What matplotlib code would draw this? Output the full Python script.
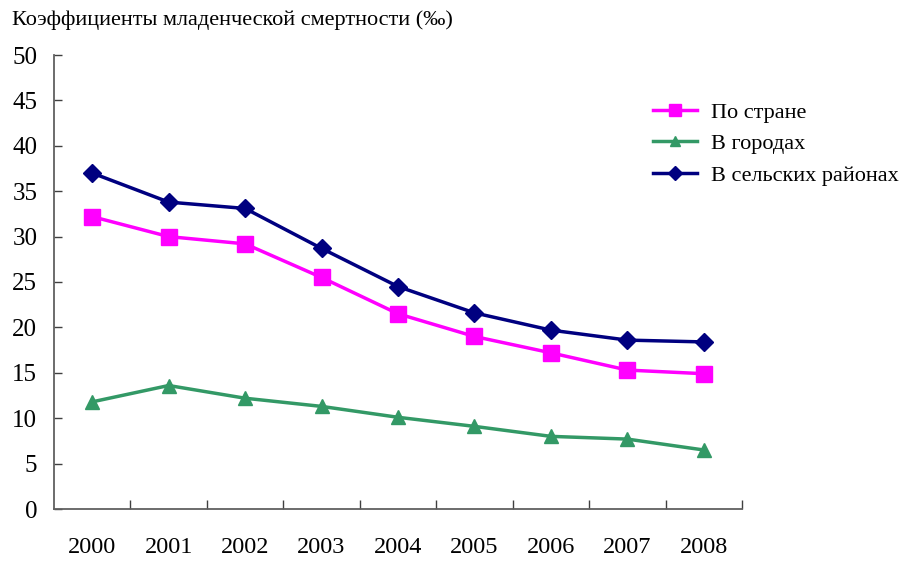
import numpy as np
import matplotlib
matplotlib.use("Agg")
import matplotlib.pyplot as plt

plt.rcParams['font.family'] = ['Liberation Serif', 'DejaVu Serif']

# данные: коэффициенты младенческой смертности (‰)
years = ["2000", "2001", "2002", "2003", "2004", "2005", "2006", "2007", "2008"]
country = [32.2, 30.0, 29.2, 25.5, 21.5, 19.0, 17.2, 15.3, 14.9]
cities = [11.8, 13.6, 12.2, 11.3, 10.1, 9.1, 8.0, 7.7, 6.5]
rural = [37.0, 33.8, 33.1, 28.7, 24.5, 21.6, 19.7, 18.6, 18.4]

fig = plt.figure(figsize=(9.08, 5.61), dpi=100)
ax = fig.add_axes([54/908, 1 - 509/561, (742 - 54)/908, (509 - 55)/561])

x = np.arange(len(years))
ax.plot(x, country, color="#FF00FF", lw=2.5, marker="s", ms=11, label="По стране")
ax.plot(x, cities, color="#339966", lw=2.5, marker="^", ms=9.5, label="В городах")
ax.plot(x, rural, color="#000080", lw=2.5, marker="D", ms=9, label="В сельских районах")

ax.set_xlim(-0.5, len(years) - 0.5)
ax.set_ylim(0, 50)
ax.set_yticks(np.arange(0, 51, 5))

# деления между категориями, подписи по центру
ax.set_xticks(np.arange(len(years)) + 0.5)
ax.set_xticklabels([])
ax.set_xticks(x, minor=True)
ax.set_xticklabels(years, minor=True)
ax.tick_params(axis="x", which="major", direction="in", length=6.5, width=1, color="#404040")
ax.tick_params(axis="x", which="minor", length=0, pad=20, labelsize=17.5)
ax.tick_params(axis="y", direction="in", length=6, width=1, color="#404040", pad=12, labelsize=18)

for s in ["top", "right"]:
    ax.spines[s].set_visible(False)
for s in ["left", "bottom"]:
    ax.spines[s].set_color("#606060")
    ax.spines[s].set_linewidth(1.3)

fig.text(12/908, 1 - 20/561, "Коэффициенты младенческой смертности (‰)",
         fontsize=16, va="center", ha="left")

fig.legend(loc="upper left", bbox_to_anchor=(633/908, 1 - 82/561), frameon=False,
           fontsize=16, handlelength=2.0, handletextpad=0.6, labelspacing=0.5,
           markerscale=0.75)

fig.savefig("out.png", dpi=100)
